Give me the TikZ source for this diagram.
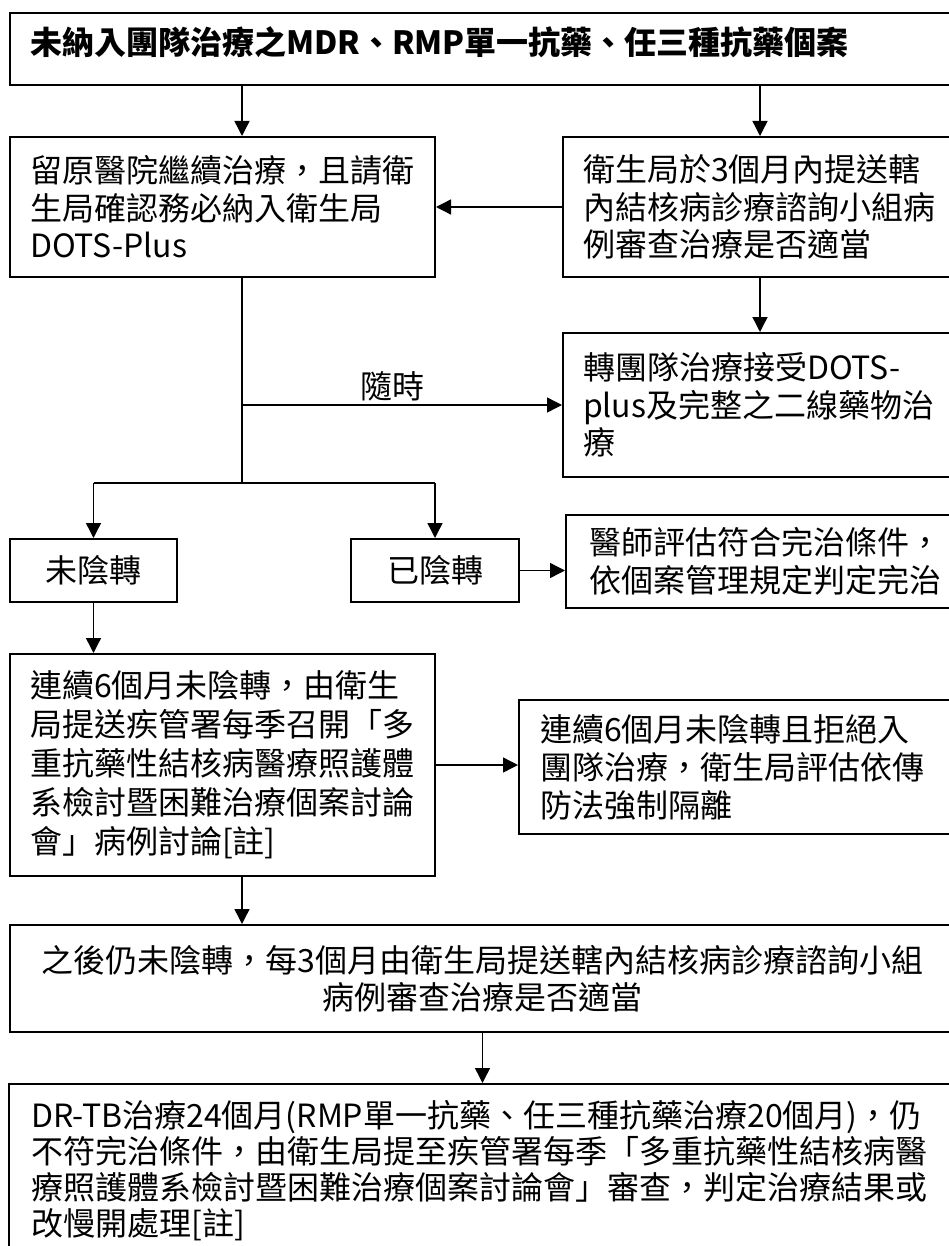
\documentclass[tikz,border=0pt]{standalone}
\usepackage{fontspec}
\setmainfont{Noto Sans CJK TC}
\usetikzlibrary{arrows.meta}

\begin{document}
\begin{tikzpicture}[x=1pt,y=-1pt,
  mybox/.style={draw,line width=2pt,align=left,inner xsep=20pt,inner ysep=0pt},
  myline/.style={line width=1.4pt},
  myarrow/.style={myline,-{Triangle[length=15pt,width=15pt]}},
  font=\fontsize{32}{39}\selectfont]
\useasboundingbox (0,0) rectangle (949,1246);
\node[mybox,text width=905pt,minimum height=72pt,text depth=16pt,font=\fontsize{32}{39}\selectfont\bfseries] (title) at (482.5,49) {未納入團隊治療之MDR、RMP單一抗藥、任三種抗藥個案};
\node[mybox,text width=385pt,minimum height=140pt,font=\fontsize{32}{37.5}\selectfont] (keep) at (222.5,207) {留原醫院繼續治療，且請衛\\生局確認務必納入衛生局\\DOTS-Plus};
\node[mybox,text width=360pt,minimum height=140pt,font=\fontsize{32}{37.5}\selectfont] (review) at (763,207) {衛生局於3個月內提送轄\\內結核病診療諮詢小組病\\例審查治療是否適當};
\node[mybox,text width=360pt,minimum height=144pt,font=\fontsize{32}{37.5}\selectfont] (team) at (763,405) {轉團隊治療接受DOTS-\\plus及完整之二線藥物治\\療};
\node[mybox,align=center,minimum width=167pt,minimum height=63pt] (neg0) at (93.5,570.5) {未陰轉};
\node[mybox,align=center,minimum width=168pt,minimum height=63pt] (neg1) at (435,570.5) {已陰轉};
\node[mybox,text width=352pt,inner xsep=23pt,minimum height=93pt,font=\fontsize{32}{38}\selectfont] (cure) at (765,561.5) {醫師評估符合完治條件，\\依個案管理規定判定完治};
\node[mybox,text width=385pt,minimum height=222pt] (six) at (222.5,765) {連續6個月未陰轉，由衛生\\局提送疾管署每季召開「多\\重抗藥性結核病醫療照護體\\系檢討暨困難治療個案討論\\會」病例討論[註]};
\node[mybox,text width=402pt,inner xsep=21pt,minimum height=134pt,font=\fontsize{32}{38}\selectfont] (isol) at (741,767) {連續6個月未陰轉且拒絕入\\團隊治療，衛生局評估依傳\\防法強制隔離};
\node[mybox,align=center,text width=905pt,minimum height=107pt,font=\fontsize{32}{37}\selectfont] (later) at (482.5,978.5) {之後仍未陰轉，每3個月由衛生局提送轄內結核病診療諮詢小組\\病例審查治療是否適當};
\node[mybox,text width=902pt,inner xsep=23pt,minimum height=174pt,font=\fontsize{32}{36}\selectfont] (final) at (482.5,1171) {DR-TB治療24個月(RMP單一抗藥、任三種抗藥治療20個月)，仍\\不符完治條件，由衛生局提至疾管署每季「多重抗藥性結核病醫\\療照護體系檢討暨困難治療個案討論會」審查，判定治療結果或\\改慢開處理[註]};

\coordinate (lx) at (242,0);
\coordinate (rx) at (760,0);
\coordinate (anytime) at (242,405);
\coordinate (split) at (242,483);

\draw[myarrow] (title.south -| lx) -- (keep.north -| lx);
\draw[myarrow] (title.south -| rx) -- (review.north -| rx);
\draw[myarrow] (review.west) -- (keep.east);
\draw[myarrow] (review.south -| rx) -- (team.north -| rx);
\draw[myline] (keep.south -| lx) -- (split);
\draw[myarrow] (anytime) -- (anytime -| team.west) node[pos=0.47,above] (when) {隨時};
\draw[myline] (split -| neg0) -- (split -| neg1);
\foreach \dst in {neg0,neg1}
  {\draw[myarrow] (split -| \dst) -- (\dst.north);}
\draw[myarrow] (neg1.east) -- (cure.west |- neg1.east);
\draw[myarrow] (neg0.south) -- (six.north -| neg0.south);
\draw[myarrow] (six.east) -- (isol.west |- six.east);
\draw[myarrow] (six.south -| lx) -- (later.north -| lx);
\draw[myarrow] (later.south) -- (final.north);
\end{tikzpicture}
\end{document}
